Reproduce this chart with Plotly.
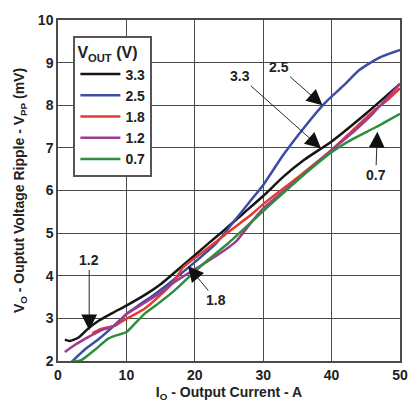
import plotly.graph_objects as go

# ---- data ----
x_33 = [1, 1.7, 3, 4.4, 6, 8, 10, 13, 15, 17, 20, 22, 24, 27, 30, 33, 36, 40, 45, 50]
y_33 = [2.5, 2.47, 2.55, 2.76, 2.95, 3.13, 3.3, 3.58, 3.8, 4.07, 4.48, 4.76, 5.03, 5.45, 5.87, 6.33, 6.72, 7.15, 7.8, 8.5]

x_25 = [2, 4, 6, 8, 10, 12, 14, 17, 20, 23, 26, 28, 30, 33, 36, 39, 42, 44, 47, 50]
y_25 = [1.98, 2.28, 2.52, 2.8, 3.1, 3.33, 3.55, 3.92, 4.32, 4.74, 5.33, 5.73, 6.13, 6.85, 7.48, 8.05, 8.5, 8.82, 9.12, 9.3]

x_18 = [5, 6.3, 8.3, 10, 12.6, 15, 17, 18.3, 21.7, 25.1, 28, 30, 35, 40, 43, 46, 48, 50]
y_18 = [2.65, 2.75, 2.83, 2.99, 3.22, 3.55, 3.88, 4.2, 4.62, 5.05, 5.4, 5.68, 6.3, 6.95, 7.4, 7.85, 8.1, 8.4]

x_12 = [1, 2.5, 4.4, 6.3, 8.3, 10, 12, 15, 17, 20, 23, 26, 28, 30, 35, 40, 43, 46, 48, 50]
y_12 = [2.21, 2.38, 2.56, 2.72, 2.83, 3.1, 3.3, 3.6, 3.85, 4.15, 4.45, 4.8, 5.2, 5.58, 6.25, 6.95, 7.35, 7.8, 8.15, 8.5]

x_07 = [2, 3.4, 5.3, 7.3, 8.5, 10, 11.2, 12.6, 14.6, 17, 20, 22, 25, 28, 30, 33, 36, 40, 43, 46.5, 50]
y_07 = [1.98, 2.02, 2.25, 2.52, 2.6, 2.68, 2.87, 3.1, 3.34, 3.65, 4.1, 4.38, 4.78, 5.22, 5.52, 5.95, 6.38, 6.9, 7.2, 7.49, 7.8]

series_names = ["3.3", "2.5", "1.8", "1.2", "0.7"]
series_colors = ["#151515", "#3a4ea2", "#e23c32", "#a13b8e", "#2e8d3e"]

x_ticks = [0, 10, 20, 30, 40, 50]
y_ticks = [2, 3, 4, 5, 6, 7, 8, 9, 10]

# annotation: (label, tip_x, tip_y, text_x, text_y)
callouts = [
    ("2.5", 38.67, 8.0, 32.36, 8.89),
    ("3.3", 38.44, 6.99, 26.63, 8.68),
    ("0.7", 46.69, 7.38, 46.46, 6.37),
    ("1.2", 4.56, 2.72, 4.56, 4.36),
    ("1.8", 19.0, 4.23, 23.13, 3.43),
]

FONT = "Liberation Sans, Arial, sans-serif"
TXT = "#222222"

def bfont(size):
    return dict(family=FONT, size=size, color=TXT, weight="bold")

fig = go.Figure()
for xs, ys, name, col in zip([x_33, x_25, x_18, x_12, x_07],
                             [y_33, y_25, y_18, y_12, y_07],
                             series_names, series_colors):
    fig.add_trace(go.Scatter(x=xs, y=ys, name=name, mode="lines",
                             line=dict(color=col, width=2.5, shape="spline", smoothing=0.6)))

for label, tx, ty, ax, ay in callouts:
    fig.add_annotation(x=tx, y=ty, ax=ax, ay=ay, xref="x", yref="y", axref="x", ayref="y",
                       text=label, showarrow=True, arrowhead=2, arrowsize=3.5,
                       arrowwidth=0.9, arrowcolor="#111111",
                       font=bfont(14), bgcolor="rgba(255,255,255,0)")

grid_col = "#4a4a4a"
fig.update_xaxes(range=[0, 50], tickvals=x_ticks, showgrid=True, gridcolor=grid_col, gridwidth=1.3,
                 showline=True, linecolor=grid_col, linewidth=1.5, mirror=True, zeroline=False,
                 ticks="", tickfont=bfont(14),
                 title=dict(text="I<sub>O</sub> - Output Current - A", font=bfont(14), standoff=6))
fig.update_yaxes(range=[2, 10], tickvals=y_ticks, showgrid=True, gridcolor=grid_col, gridwidth=1.3,
                 showline=True, linecolor=grid_col, linewidth=1.5, mirror=True, zeroline=False,
                 ticks="", tickfont=bfont(14),
                 title=dict(text="V<sub>O</sub> - Ouptut Voltage Ripple - V<sub>PP</sub> (mV)",
                            font=bfont(14), standoff=10))

fig.update_layout(
    width=420, height=412,
    margin=dict(l=58, r=19, t=18, b=51),
    paper_bgcolor="white", plot_bgcolor="white",
    showlegend=True,
    legend=dict(x=0.045, y=0.954, xanchor="left", yanchor="top",
                bgcolor="white", bordercolor="#555555", borderwidth=2,
                font=bfont(14),
                title=dict(text="V<sub>OUT</sub> (V)", font=bfont(16)),
                itemwidth=40, tracegroupgap=0),
)

fig.write_html("out.html", config={"displayModeBar": False},
               post_script="document.body.style.margin='0';document.body.style.padding='0';")
